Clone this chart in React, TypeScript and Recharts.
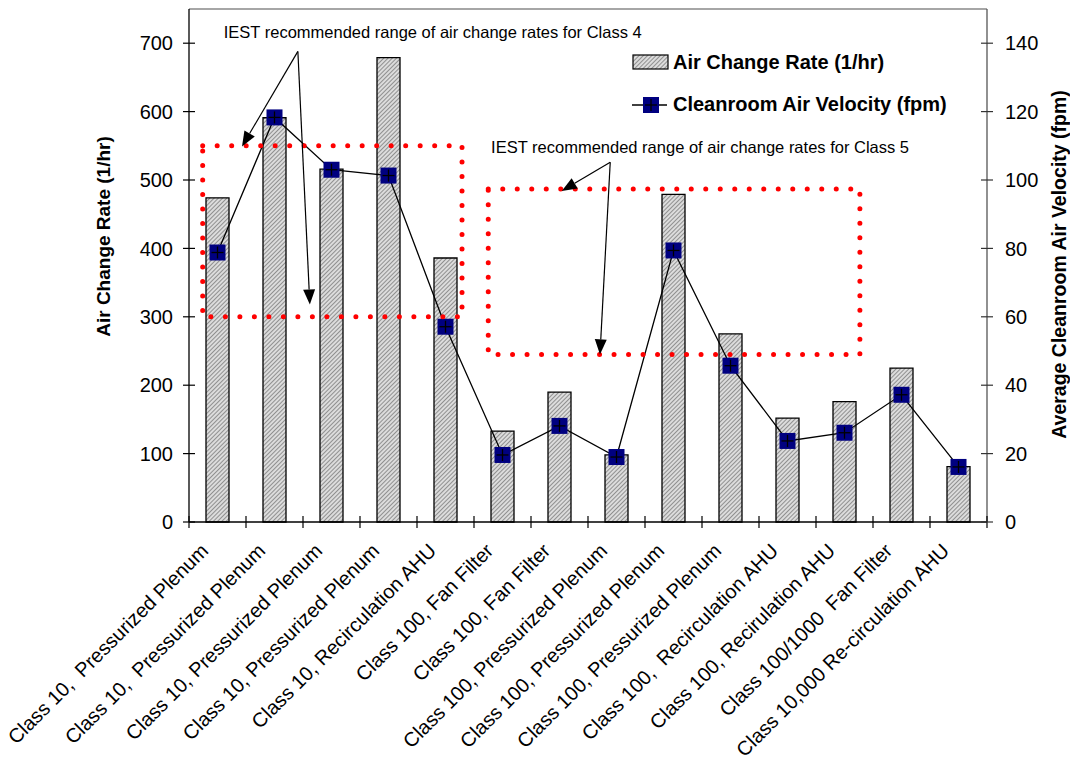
import {
  Bar,
  ComposedChart,
  Legend,
  Line,
  ReferenceArea,
  ReferenceDot,
  ReferenceLine,
  XAxis,
  YAxis,
} from "recharts";

const categories = [
  "Class 10,\u00a0 Pressurized Plenum",
  "Class 10,\u00a0 Pressurized Plenum",
  "Class 10, Pressurized Plenum",
  "Class 10, Pressurized Plenum",
  "Class 10, Recirculation AHU",
  "Class 100, Fan Filter",
  "Class 100, Fan Filter",
  "Class 100, Pressurized Plenum",
  "Class 100, Pressurized Plenum",
  "Class 100, Pressurized Plenum",
  "Class 100,\u00a0 Recirculation AHU",
  "Class 100, Recirulation AHU",
  "Class 100/1000\u00a0 Fan Filter",
  "Class 10,000 Re-circulation AHU",
];

const airChangeRate = [474, 591, 516, 679, 386, 133, 190, 98, 479, 275, 152, 176, 225, 81];
const airVelocity = [78.8, 118.3, 103, 101.3, 57.1, 19.6, 28.1, 19.0, 79.4, 45.7, 23.7, 26.1, 37.2, 16.1];

const leftTicks = [0, 100, 200, 300, 400, 500, 600, 700];
const rightTicks = [0, 20, 40, 60, 80, 100, 120, 140];

// recommended ranges (x in category slots, y in 1/hr)
const ranges = [
  { x1: 0.24, x2: 4.79, y1: 300, y2: 550 },
  { x1: 5.25, x2: 11.77, y1: 245, y2: 487 },
];

const notes = [
  {
    text: "IEST recommended range of air change rates for Class 4",
    tx: 0.61,
    ty: 707,
    ox: 1.91,
    oy: 688,
    tips: [
      [0.93, 549],
      [2.12, 318],
    ],
  },
  {
    text: "IEST recommended range of air change rates for Class 5",
    tx: 5.3,
    ty: 540,
    ox: 7.39,
    oy: 526,
    tips: [
      [6.54, 484],
      [7.21, 245],
    ],
  },
];

const rows = categories.map((name, i) => ({
  name,
  slot: i + 0.5,
  ach: airChangeRate[i],
  vel: airVelocity[i],
}));

const FONT = "'Liberation Sans', Arial, sans-serif";
const W = 1070;
const H = 757;
const LEFT_W = 189;
const RIGHT_W = 83;
const HALF_BAND = (W - LEFT_W - RIGHT_W) / categories.length / 2;

function CatTick(props: any) {
  const { x, y, payload, index } = props;
  const last = index === categories.length - 1;
  return (
    <g>
      <line x1={x - HALF_BAND} x2={x - HALF_BAND} y1={y - 6} y2={y + 6} stroke="#000" strokeWidth={1.2} />
      {last && <line x1={x + HALF_BAND} x2={x + HALF_BAND} y1={y - 6} y2={y + 6} stroke="#000" strokeWidth={1.2} />}
      <text
        transform={`translate(${x - 8},${y + 30}) rotate(-45)`}
        textAnchor="end"
        fontSize={20}
        fontFamily={FONT}
        fill="#000"
      >
        {payload.value}
      </text>
    </g>
  );
}

function ValTick(props: any) {
  const { x, y, payload, side } = props;
  const left = side === "left";
  return (
    <g>
      <line x1={x - 6} x2={x + 6} y1={y} y2={y} stroke={left ? "#000" : "#333"} strokeWidth={1.2} />
      <text
        x={left ? x - 16 : x + 18}
        y={y}
        dy="0.36em"
        textAnchor={left ? "end" : "start"}
        fontSize={20}
        fontFamily={FONT}
        fill="#000"
      >
        {payload.value}
      </text>
    </g>
  );
}

function AxisTitle(props: any) {
  const { viewBox, text, dx, dy, size } = props;
  const cx = viewBox.x + dx;
  const cy = viewBox.y + viewBox.height / 2 + dy;
  return (
    <text
      transform={`translate(${cx},${cy}) rotate(-90)`}
      textAnchor="middle"
      dominantBaseline="central"
      fontSize={size}
      fontWeight="bold"
      fontFamily={FONT}
      fill="#000"
    >
      {text}
    </text>
  );
}

function VelDot(props: any) {
  const { cx, cy } = props;
  if (cx == null || cy == null) return null;
  return (
    <g>
      <rect x={cx - 8} y={cy - 8} width={16} height={16} fill="#000080" />
      <line x1={cx - 6} x2={cx + 6} y1={cy} y2={cy} stroke="#000" strokeWidth={1.3} />
      <line x1={cx} x2={cx} y1={cy - 6} y2={cy + 6} stroke="#000" strokeWidth={1.3} />
    </g>
  );
}

function Arrow(props: any) {
  const { x1, y1, x2, y2 } = props;
  const ang = Math.atan2(y2 - y1, x2 - x1);
  const len = 15;
  const hw = 6;
  const bx = x2 - len * Math.cos(ang);
  const by = y2 - len * Math.sin(ang);
  const px = -Math.sin(ang) * hw;
  const py = Math.cos(ang) * hw;
  return (
    <g>
      <line x1={x1} y1={y1} x2={bx} y2={by} stroke="#000" strokeWidth={1.2} />
      <polygon points={`${x2},${y2} ${bx + px},${by + py} ${bx - px},${by - py}`} fill="#000" />
    </g>
  );
}

function LegendBox() {
  return (
    <svg width={380} height={75} style={{ display: "block" }}>
      <rect x={1} y={10} width={35} height={14} fill="url(#hatch)" stroke="#000" strokeWidth={1.2} />
      <text x={41} y={17} dominantBaseline="central" fontSize={20} fontWeight="bold" fontFamily={FONT}>
        Air Change Rate (1/hr)
      </text>
      <line x1={0} x2={35} y1={60} y2={60} stroke="#000" strokeWidth={1.3} />
      <VelDot cx={19} cy={60} />
      <text x={41} y={59} dominantBaseline="central" fontSize={20} fontWeight="bold" fontFamily={FONT}>
        Cleanroom Air Velocity (fpm)
      </text>
    </svg>
  );
}

export default function App() {
  return (
    <div style={{ position: "absolute", left: 0, top: 0, width: W, height: H, background: "#fff" }}>
      <svg width={0} height={0} style={{ position: "absolute" }}>
        <defs>
          <pattern id="hatch" width={3} height={3} patternUnits="userSpaceOnUse" patternTransform="rotate(45)">
            <rect width={3} height={3} fill="#dcdcdc" />
            <line x1={0} y1={0} x2={0} y2={3} stroke="#666" strokeWidth={1.3} />
          </pattern>
        </defs>
      </svg>
      <ComposedChart width={W} height={H} data={rows} margin={{ top: 9, right: 0, bottom: 0, left: 0 }}>
        <XAxis
          dataKey="name"
          height={235}
          interval={0}
          tick={<CatTick />}
          tickLine={false}
          tickSize={0}
          tickMargin={0}
          axisLine={{ stroke: "#000", strokeWidth: 1.3 }}
        />
        <XAxis xAxisId="u" type="number" dataKey="slot" domain={[0, 14]} allowDataOverflow hide />
        <YAxis
          yAxisId="left"
          domain={[0, 750]}
          ticks={leftTicks}
          width={LEFT_W}
          tick={<ValTick side="left" />}
          tickLine={false}
          tickSize={0}
          tickMargin={0}
          axisLine={{ stroke: "#000", strokeWidth: 1.3 }}
          label={{
            content: (p: any) => <AxisTitle {...p} text="Air Change Rate (1/hr)" dx={103} dy={-29} size={19} />,
          }}
        />
        <YAxis
          yAxisId="right"
          orientation="right"
          domain={[0, 150]}
          ticks={rightTicks}
          width={RIGHT_W}
          tick={<ValTick side="right" />}
          tickLine={false}
          tickSize={0}
          tickMargin={0}
          axisLine={{ stroke: "#555", strokeWidth: 1.3 }}
          label={{
            content: (p: any) => (
              <AxisTitle {...p} text="Average Cleanroom Air Velocity (fpm)" dx={72} dy={-1} size={19.5} />
            ),
          }}
        />
        <ReferenceLine yAxisId="left" y={750} stroke="#888" strokeWidth={1.3} />
        <Bar
          yAxisId="left"
          dataKey="ach"
          barSize={23}
          fill="url(#hatch)"
          stroke="#000"
          strokeWidth={1.3}
          isAnimationActive={false}
        />
        <Line
          yAxisId="right"
          dataKey="vel"
          type="linear"
          stroke="#000"
          strokeWidth={1.3}
          dot={<VelDot />}
          activeDot={false}
          isAnimationActive={false}
        />
        {ranges.map((r, i) => (
          <ReferenceArea
            key={`r${i}`}
            xAxisId="u"
            yAxisId="left"
            x1={r.x1}
            x2={r.x2}
            y1={r.y1}
            y2={r.y2}
            zIndex={1500}
            fill="none"
            fillOpacity={0}
            stroke="#ff0000"
            strokeWidth={5}
            strokeDasharray="0 14.5"
            strokeLinecap="round"
          />
        ))}
        {notes.map((n, i) => (
          <ReferenceDot
            key={`t${i}`}
            xAxisId="u"
            yAxisId="left"
            x={n.tx}
            y={n.ty}
            r={0}
            zIndex={1600}
            shape={(p: any) => (
              <text x={p.cx} y={p.cy} fontSize={16.5} fontFamily={FONT} fill="#000">
                {n.text}
              </text>
            )}
          />
        ))}
        {notes.flatMap((n, i) =>
          n.tips.map((t, j) => (
            <ReferenceLine
              key={`a${i}-${j}`}
              xAxisId="u"
              yAxisId="left"
              zIndex={1600}
              segment={[
                { x: n.ox, y: n.oy },
                { x: t[0], y: t[1] },
              ]}
              shape={<Arrow />}
            />
          ))
        )}
        <Legend
          layout="horizontal"
          verticalAlign="middle"
          align="center"
          wrapperStyle={{ position: "absolute", left: 632, top: 45, width: 380, height: 75 }}
          content={() => <LegendBox />}
        />
      </ComposedChart>
    </div>
  );
}
